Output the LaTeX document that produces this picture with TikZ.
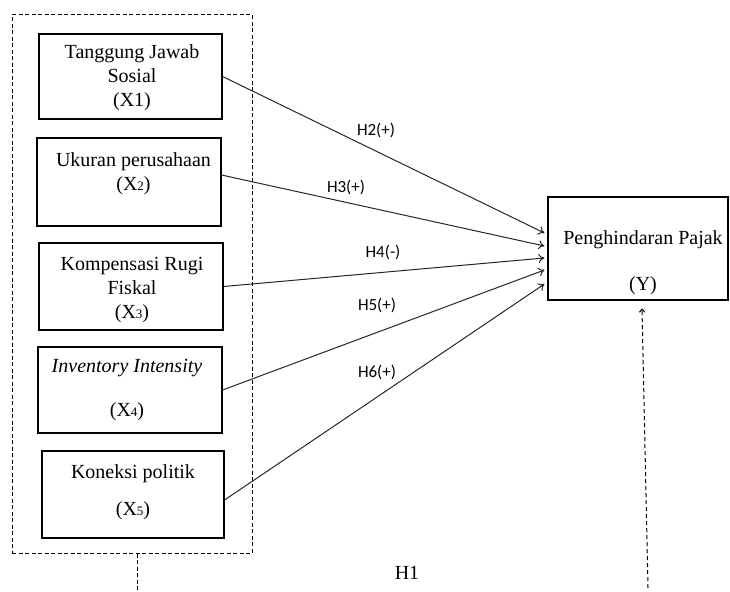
\documentclass[tikz,border=0pt]{standalone}
\usepackage{fontspec}
\setmainfont{Liberation Serif}
\newfontfamily\hfont{Carlito}
\usetikzlibrary{arrows.meta}
\newcommand{\subdig}[1]{{\fontsize{13}{13}\selectfont #1}}

\tikzset{
    box/.style={draw, line width=1.1pt, inner sep=0pt},
    txt/.style={align=center, inner sep=0pt, font=\fontsize{20}{24}\selectfont},
    hlab/.style={inner sep=0pt, font=\hfont\fontsize{17}{20}\selectfont},
    path/.style={line width=1pt, draw=black!85, -{To[length=6pt,width=9pt]}},
    grp/.style={draw, dash pattern=on 4pt off 2.5pt, line width=1pt, inner sep=0pt}
}

\begin{document}
\begin{tikzpicture}[x=1pt, y=-1pt]

    \useasboundingbox (0,0) rectangle (730,591);

    % group of independent variables
    \node[grp, minimum width=240pt, minimum height=538pt] (grp) at (132,284) {};

    \node[box, minimum width=183pt, minimum height=85pt] (x1) at (130.5,76.5) {};
    \node[box, minimum width=184pt, minimum height=88pt] (x2) at (129,182) {};
    \node[box, minimum width=184pt, minimum height=87pt] (x3) at (131,286.5) {};
    \node[box, minimum width=184pt, minimum height=86pt] (x4) at (130,390) {};
    \node[box, minimum width=182pt, minimum height=87pt] (x5) at (133,494.5) {};
    \node[box, minimum width=180pt, minimum height=103pt] (yy) at (638,248.5) {};

    \node[txt] (x1t) at (132,78) {Tanggung Jawab\\Sosial\\(X1)};
    \node[txt] (x2t) at (133.5,173.5) {Ukuran perusahaan\\(X\subdig{2})};
    \node[txt] (x3t) at (132,290.5) {Kompensasi Rugi\\Fiskal\\(X\subdig{3})};
    \node[txt] (x4t) at (127,390.5) {\textit{Inventory Intensity}\\[20pt](X\subdig{4})};
    \node[txt] (x5t) at (133,492) {Koneksi politik\\[13pt](X\subdig{5})};
    \node[txt] (yt) at (643,262.5) {Penghindaran Pajak\\[22pt](Y)};

    % hypotheses
    \draw[path] (x1.east) -- ([yshift=15.5pt, xshift=-3pt]yy.west);
    \draw[path] ([yshift=7pt]x2.east) -- ([yshift=2.5pt, xshift=-3pt]yy.west);
    \draw[path] (x3.east) -- ([yshift=-9.5pt, xshift=-3pt]yy.west);
    \draw[path] (x4.east) -- ([yshift=-21.5pt, xshift=-3pt]yy.west);
    \draw[path] ([yshift=-5.5pt]x5.east) -- ([yshift=-35.5pt, xshift=-3pt]yy.west);

    \node[hlab] (h2) at (376,130) {H2(+)};
    \node[hlab] (h3) at (346,187) {H3(+)};
    \node[hlab] (h4) at (383,252) {H4(-)};
    \node[hlab] (h5) at (377,305) {H5(+)};
    \node[hlab] (h6) at (377,372) {H6(+)};

    % simultaneous effect
    \coordinate (h1l) at (137,591);
    \coordinate (h1r) at (648,588);
    \draw[dash pattern=on 4pt off 2.5pt, line width=1pt] ([xshift=5pt]grp.south) -- (h1l);
    \draw[dash pattern=on 4pt off 3pt, line width=1pt, -{To[length=4pt,width=6pt]}] (h1r) -- ([xshift=4pt, yshift=-8pt]yy.south);
    \node[txt] (h1) at (407,573) {H1};

\end{tikzpicture}
\end{document}
